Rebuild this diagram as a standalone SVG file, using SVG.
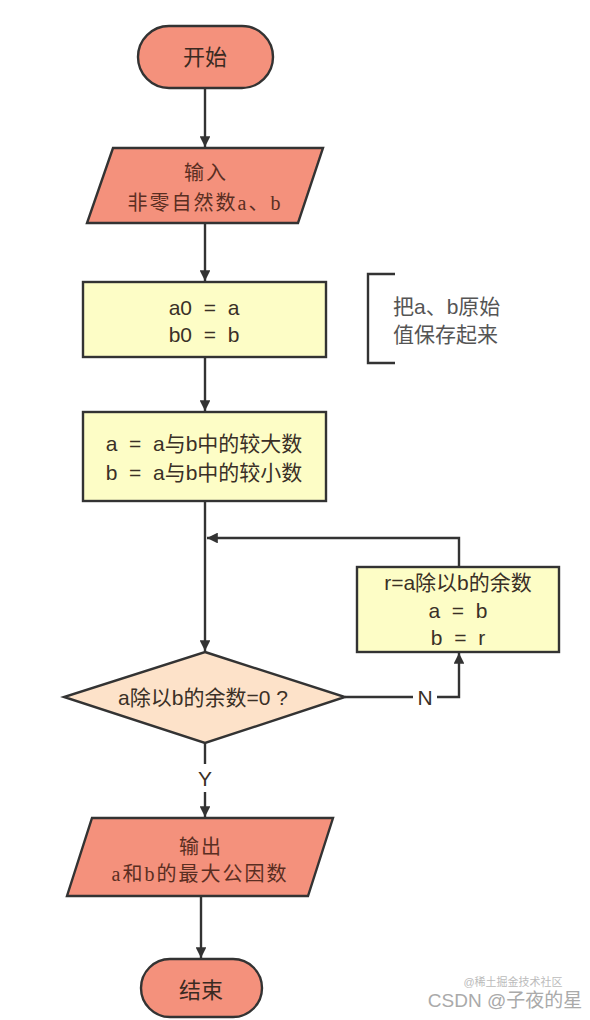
<svg xmlns="http://www.w3.org/2000/svg" width="590" height="1020" viewBox="0 0 590 1020">
<style>
.t{font-family:"Liberation Sans","Noto Sans CJK SC",sans-serif;font-size:21px;fill:#3a3026;text-anchor:middle;dominant-baseline:central;white-space:pre}
.tt{font-family:"Liberation Sans","Noto Sans CJK SC",sans-serif;font-size:22px;fill:#3a2a22;text-anchor:middle;dominant-baseline:central}
.ts{font-family:"Liberation Serif","Noto Sans CJK SC",serif;font-size:20px;letter-spacing:2px;fill:#5a2e22;text-anchor:middle;dominant-baseline:central}
.salmon{fill:#f4917c;stroke:#333;stroke-width:2.4}
.yel{fill:#fdfdc6;stroke:#333;stroke-width:2.4}
.peach{fill:#fde2c9;stroke:#333;stroke-width:2.4}
.ln{fill:none;stroke:#333;stroke-width:2.4}
.note{font-family:"Liberation Sans","Noto Sans CJK SC",sans-serif;font-size:21px;fill:#555;dominant-baseline:central}
</style>
<defs>
<marker id="ah" viewBox="0 0 10 10" refX="10" refY="5" markerWidth="5.5" markerHeight="4.5" markerUnits="strokeWidth" orient="auto">
<path d="M0,0 L10,5 L0,10 z" fill="#333"/>
</marker>
</defs>
<rect width="590" height="1020" fill="#fff"/>
<g id="connectors">
<line class="ln" x1="205" y1="88" x2="205" y2="147" marker-end="url(#ah)"/>
<line class="ln" x1="205" y1="223" x2="205" y2="281" marker-end="url(#ah)"/>
<line class="ln" x1="205" y1="357" x2="205" y2="411" marker-end="url(#ah)"/>
<line class="ln" x1="205" y1="501" x2="205" y2="651" marker-end="url(#ah)"/>
<polyline class="ln" points="345,697 459,697 459,653" marker-end="url(#ah)"/>
<polyline class="ln" points="459,567 459,538 207,538" marker-end="url(#ah)"/>
<line class="ln" x1="205" y1="743" x2="205" y2="817" marker-end="url(#ah)"/>
<line class="ln" x1="201" y1="896" x2="201" y2="958" marker-end="url(#ah)"/>
<rect x="413" y="684" width="24" height="26" fill="#fff"/>
<text class="t" x="425" y="697">N</text>
<rect x="193" y="764" width="24" height="28" fill="#fff"/>
<text class="t" x="205" y="778">Y</text>
</g>
<g id="start">
<rect class="salmon" x="138" y="26" width="135" height="62" rx="31"/>
<text class="tt" x="205" y="57">开始</text>
</g>
<g id="input">
<polygon class="salmon" points="113,148 323,148 298,223 87,223"/>
<text class="ts" x="206" y="173">输入</text>
<text class="ts" x="205" y="203">非零自然数a、b</text>
</g>
<g id="save">
<rect class="yel" x="83" y="282" width="243" height="75"/>
<text class="t" x="204" y="307" xml:space="preserve">a0  =  a</text>
<text class="t" x="204" y="334" xml:space="preserve">b0  =  b</text>
</g>
<g id="note">
<polyline class="ln" points="395,274 368,274 368,363 395,363"/>
<text class="note" x="393" y="306">把a、b原始</text>
<text class="note" x="393" y="334">值保存起来</text>
</g>
<g id="order">
<rect class="yel" x="83" y="412" width="243" height="89"/>
<text class="t" x="204" y="443" xml:space="preserve">a  =  a与b中的较大数</text>
<text class="t" x="204" y="472" xml:space="preserve">b  =  a与b中的较小数</text>
</g>
<g id="decision">
<polygon class="peach" points="205,652 345,697 205,743 64,697"/>
<text class="t" x="203" y="697" xml:space="preserve">a除以b的余数=0 ?</text>
</g>
<g id="loop">
<rect class="yel" x="357" y="567" width="202" height="85"/>
<text class="t" x="458" y="582">r=a除以b的余数</text>
<text class="t" x="458" y="610" xml:space="preserve">a  =  b</text>
<text class="t" x="458" y="637" xml:space="preserve">b  =  r</text>
</g>
<g id="output">
<polygon class="salmon" points="92,818 333,818 308,896 67,896"/>
<text class="ts" x="201" y="847">输出</text>
<text class="ts" x="200" y="874">a和b的最大公因数</text>
</g>
<g id="end">
<rect class="salmon" x="141" y="959" width="121" height="58" rx="29"/>
<text class="tt" x="201" y="990">结束</text>
</g>
<g id="watermark">
<text x="505" y="1000" font-family="Liberation Sans,'Noto Sans CJK SC',sans-serif" font-size="19" fill="#aaa" text-anchor="middle" dominant-baseline="central">CSDN @子夜的星</text>
<text x="513" y="982" font-family="Liberation Sans,'Noto Sans CJK SC',sans-serif" font-size="11" fill="#bbb" text-anchor="middle" dominant-baseline="central">@稀土掘金技术社区</text>
</g>
</svg>
